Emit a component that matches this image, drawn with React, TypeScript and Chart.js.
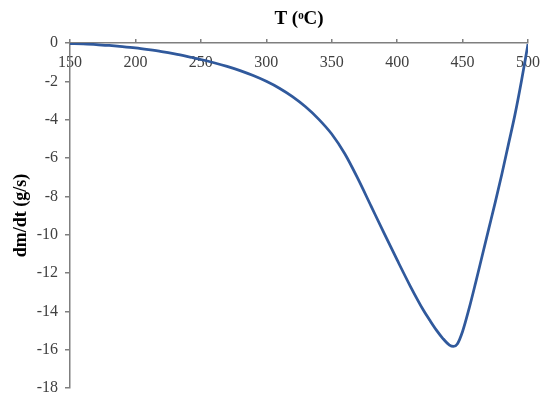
import React, { useEffect, useRef } from "react";
import { Chart, registerables } from "chart.js";

Chart.register(...registerables);

const temperatures = [150, 160, 170, 180, 190, 200, 210, 220, 230, 240, 250, 260, 270, 280, 290, 300, 310, 320, 330, 340, 350, 360, 370, 380, 390, 400, 410, 420, 425, 430, 435, 440, 443, 446, 450, 455, 460, 465, 470, 475, 480, 485, 490, 495, 500];
const rates = [-0.03, -0.05, -0.08, -0.13, -0.19, -0.26, -0.35, -0.45, -0.57, -0.71, -0.86, -1.03, -1.22, -1.44, -1.7, -2.0, -2.36, -2.8, -3.33, -3.97, -4.75, -5.78, -7.08, -8.5, -9.92, -11.32, -12.68, -13.93, -14.47, -14.98, -15.42, -15.76, -15.83, -15.7, -15.05, -13.85, -12.5, -11.1, -9.7, -8.3, -6.85, -5.3, -3.75, -1.98, -0.05];

const xTitle = "T (\u1d52C)";
const yTitle = "dm/dt (g/s)";

export default function App() {
  const ref = useRef<HTMLCanvasElement>(null);
  useEffect(() => {
    if (!ref.current) return;
    const chart = new Chart(ref.current, {
      type: "line",
      data: {
        datasets: [
          {
            data: temperatures.map((t, i) => ({ x: t, y: rates[i] })),
            borderColor: "#30599C",
            borderWidth: 2.75,
            pointRadius: 0,
            cubicInterpolationMode: "monotone",
            fill: false,
          },
        ],
      },
      options: {
        animation: false,
        responsive: false,
        maintainAspectRatio: false,
        layout: { padding: { left: 0, right: 15, top: 0, bottom: 7 } },
        plugins: { legend: { display: false }, tooltip: { enabled: false } },
        scales: {
          x: {
            type: "linear",
            position: "top",
            min: 150,
            max: 500,
            afterFit: (s: any) => {
              s.height = 43;
              s.paddingLeft = 0;
              s.paddingRight = 0;
            },
            ticks: {
              stepSize: 50,
              mirror: true,
              padding: 10,
              color: "#404040",
              font: { family: "Liberation Serif", size: 16 },
            },
            grid: { drawOnChartArea: false, drawTicks: true, tickLength: 4, color: "#7f7f7f", lineWidth: 1.5 },
            border: { display: true, color: "#7f7f7f", width: 1.5 },
            title: {
              display: true,
              text: xTitle,
              color: "#000",
              font: { family: "Liberation Serif", size: 19, weight: "bold" },
              padding: { top: 8, bottom: 0 },
            },
          },
          y: {
            type: "linear",
            min: -18,
            max: 0,
            afterFit: (s: any) => {
              s.width = 70;
              s.paddingTop = 0;
              s.paddingBottom = 0;
            },
            ticks: {
              stepSize: 2,
              padding: 7,
              color: "#404040",
              font: { family: "Liberation Serif", size: 16 },
            },
            grid: { drawOnChartArea: false, drawTicks: true, tickLength: 5, color: "#7f7f7f", lineWidth: 1.5 },
            border: { display: true, color: "#7f7f7f", width: 1.5 },
            title: {
              display: true,
              text: yTitle,
              color: "#000",
              font: { family: "Liberation Serif", size: 18, weight: "bold" },
              padding: { top: 11, bottom: 0 },
            },
          },
        },
      },
    });
    return () => chart.destroy();
  }, []);
  return (
    <div style={{ position: "absolute", left: 0, top: 0, width: 543, height: 395, background: "#fff" }}>
      <canvas ref={ref} width={543} height={395} style={{ width: 543, height: 395 }} />
    </div>
  );
}
